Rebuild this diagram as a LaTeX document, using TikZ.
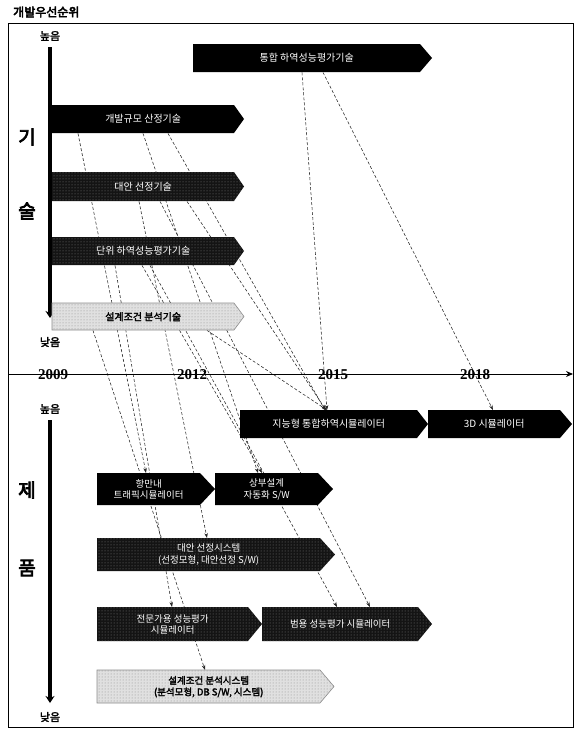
\documentclass[tikz,border=0pt]{standalone}
\usepackage{fontspec}
\setmainfont{Noto Sans CJK KR}[AutoFakeBold=2.5]
\newfontfamily\heavyfont{Noto Sans CJK KR}[FakeBold=4]
\newfontfamily\yearfont{Liberation Serif}
\usetikzlibrary{patterns,arrows.meta,calc}
\pgfdeclarelayer{bg}
\pgfsetlayers{bg,main}
% name x1 y1 x2 y2 tip fillstyle textstyle text
\newcommand\abox[9]{%
  \path[#7] (#2,#3) -- (#4,#3) -- ({#4+#6},{(#3+#5)/2}) -- (#4,#5) -- (#2,#5) -- cycle;
  \node[#8, anchor=north west, minimum width={(#4-#2)*1pt}, minimum height={(#5-#3)*1pt}, inner sep=0pt] (#1) at (#2,#3) {#9};
}
\tikzset{
  solidbox/.style={fill=black},
  dotbox/.style={preaction={fill=black!92}, pattern=dots, pattern color=black!50},
  lightbox/.style={preaction={fill=black!12}, pattern=dots, pattern color=black!45, draw=black!45, line width=0.6pt},
  wtxt/.style={text=white, font=\fontsize{10}{12}\selectfont, align=center},
  wtxtb/.style={text=white, font=\fontsize{9.5}{11.5}\selectfont, align=center},
  btxt/.style={text=black, font=\fontsize{10}{12}\selectfont\bfseries, align=center},
  btxtb/.style={text=black, font=\fontsize{9.5}{11.5}\selectfont\bfseries, align=center},
  link/.style={densely dashed, line width=0.55pt, black!85, -{Stealth[length=5pt,width=3.5pt]}},
  lvl/.style={font=\fontsize{11}{11}\selectfont\bfseries, inner sep=1pt},
  big/.style={font=\heavyfont\fontsize{19}{19}\selectfont},
  yr/.style={font=\yearfont\bfseries\fontsize{15}{15}\selectfont, inner sep=0pt},
  bar/.style={line width=4pt, -{Stealth[length=7pt,width=9pt]}},
}
\begin{document}
\begin{tikzpicture}[x=1pt,y=-1pt]
\useasboundingbox (0,0) rectangle (576,731);
% title and frame
\node[anchor=west, font=\heavyfont\fontsize{12}{12}\selectfont, inner sep=0pt] (title) at (13,12) {개발우선순위};
\draw[line width=1pt] (8,23) rectangle (573,727);
% time axis
\coordinate (tl0) at (8,374);
\coordinate (tl1) at (573,374);
\draw[line width=1pt, -{Stealth[length=7pt,width=6pt]}] (tl0) -- (tl1);
\node[yr] (y09) at (53,375) {2009};
\node[yr] (y12) at (192,375) {2012};
\node[yr] (y15) at (333,375) {2015};
\node[yr] (y18) at (475,375) {2018};
% priority axes
\node[lvl] (hi1) at (50,36) {높음};
\node[lvl] (lo1) at (50,342) {낮음};
\coordinate (b1a) at (50,47);
\coordinate (b1b) at (50,318);
\draw[bar] (b1a) -- (b1b);
\node[lvl] (hi2) at (50,409) {높음};
\node[lvl, fill=white] (lo2) at (50,717) {낮음};
\coordinate (b2a) at (50,420);
\coordinate (b2b) at (50,703);
\draw[bar] (b2a) -- (b2b);
\node[big] (k1) at (27,137) {기};
\node[big] (k2) at (27,211) {술};
\node[big] (k3) at (27,490) {제};
\node[big] (k4) at (27,568) {품};
% technology boxes
\abox{T1}{193}{44}{420}{72}{12}{solidbox}{wtxt}{통합 하역성능평가기술}
\abox{T2}{52}{105}{234}{133}{10}{solidbox}{wtxt}{개발규모 산정기술}
\abox{T3}{52}{172}{234}{201}{10}{dotbox}{wtxt}{대안 선정기술}
\abox{T4}{52}{237}{234}{265}{10}{dotbox}{wtxt}{단위 하역성능평가기술}
\abox{T5}{52}{303}{234}{330}{10}{lightbox}{btxt}{설계조건 분석기술}
% product boxes
\abox{P1}{240}{410}{417}{438}{11}{solidbox}{wtxt}{지능형 통합하역시뮬레이터}
\abox{P2}{428}{410}{560}{438}{12}{solidbox}{wtxt}{3D 시뮬레이터}
\abox{P3}{97}{473}{200}{505}{15}{solidbox}{wtxtb}{항만내\\트래픽시뮬레이터}
\abox{P4}{215}{473}{318}{505}{15}{solidbox}{wtxtb}{상부설계\\자동화 S/W}
\abox{P5}{97}{538}{320}{571}{15}{dotbox}{wtxtb}{대안 선정시스템\\(선정모형, 대안선정 S/W)}
\abox{P6}{97}{607}{248}{641}{14}{dotbox}{wtxtb}{전문가용 성능평가\\시뮬레이터}
\abox{P7}{262}{607}{418}{641}{14}{dotbox}{wtxtb}{범용 성능평가 시뮬레이터}
\abox{P8}{97}{670}{320}{703}{14}{lightbox}{btxtb}{설계조건 분석시스템\\(분석모형, DB S/W, 시스템)}
% links
\begin{pgfonlayer}{bg}
\draw[link] ($(T1.south west)+(109,0)$) -- ($(P1.north west)+(87,0)$);
\draw[link] ($(T1.south west)+(130,0)$) -- ($(P2.north west)+(65,0)$);
\draw[link] ($(T2.south west)+(26,0)$) -- ($(P3.north west)+(49,0)$);
\draw[link] ($(T2.south west)+(91,0)$) -- ($(P4.north west)+(43,0)$);
\draw[link] ($(T2.south west)+(116,0)$) -- ($(P1.north west)+(85,0)$);
\draw[link] ($(T3.south west)+(87,0)$) -- ($(P5.north west)+(110,0)$);
\draw[link] ($(T3.south west)+(135,0)$) -- ($(P1.north west)+(86,0)$);
\draw[link] ($(T3.south west)+(108,0)$) -- ($(P7.north west)+(108,0)$);
\draw[link] ($(T4.south west)+(63,0)$) -- ($(P6.north west)+(75,0)$);
\draw[link] ($(T4.south west)+(90,0)$) -- ($(P4.north west)+(47,0)$);
\draw[link] ($(T4.south west)+(98,0)$) -- ($(P7.north west)+(75,0)$);
\draw[link] ($(T5.south west)+(41,0)$) -- ($(P8.north west)+(108,0)$);
\draw[link] ($(T5.south west)+(155,0)$) -- ($(P1.north west)+(87,0)$);
\end{pgfonlayer}
\end{tikzpicture}
\end{document}
